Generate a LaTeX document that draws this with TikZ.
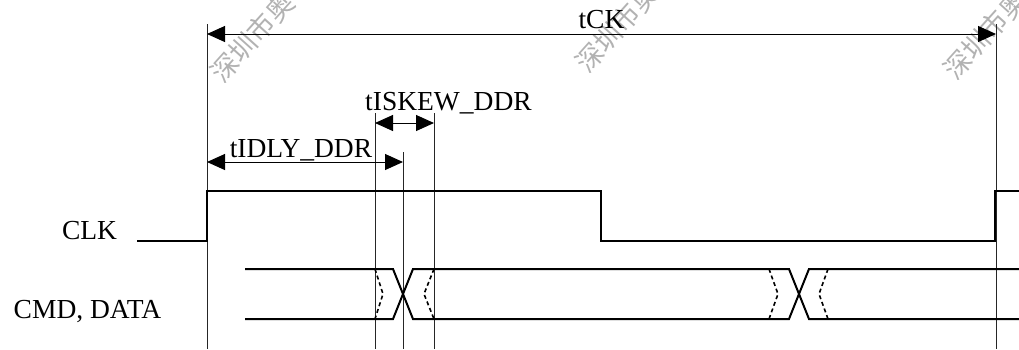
\documentclass[tikz,border=0pt]{standalone}
\usepackage{fontspec}
\setmainfont{Liberation Serif}
\newfontfamily\cjkfont{Noto Sans CJK SC}
\usepackage{tikz}
\usetikzlibrary{arrows.meta, positioning}

\begin{document}
\begin{tikzpicture}[
    x=1pt, y=-1pt,
    font=\fontsize{27.5}{32}\selectfont,
    signal/.style={
      line width=2pt,
      line join=miter
    },
    guide/.style={
      line width=1pt,
      draw=black!85
    },
    dim/.style={
      {Triangle[length=18pt, width=16pt]}-{Triangle[length=18pt, width=16pt]},
      line width=1pt
    },
    skewmark/.style={
      line width=1.6pt,
      dash pattern=on 4pt off 3pt
    },
    lbl/.style={
      anchor=base,
      inner sep=0pt
    },
    wmark/.style={
      font=\cjkfont\fontsize{27}{30}\selectfont,
      text=black!30,
      rotate=48,
      anchor=west,
      inner sep=0pt
    }
  ]

    \useasboundingbox (0,0) rectangle (1019,349);

    % Watermarks
    \begin{scope}
      \clip (0,0) rectangle (1019,349);
      \node[wmark] (wm1) at (216,78) {深圳市奥};
      \node[wmark] (wm2) at (581,68) {深圳市奥};
      \node[wmark] (wm3) at (949,75) {深圳市奥};
    \end{scope}

    % Time marks
    \coordinate (rise0) at (207,24);
    \coordinate (rise1) at (996,24);
    \coordinate (skewa) at (375,113);
    \coordinate (skewb) at (434,113);
    \coordinate (delay) at (403,152);

    % Guide lines
    \draw[guide] (rise0) -- (207,349);
    \draw[guide] (rise1) -- (996,349);
    \draw[guide] (skewa) -- (375,349);
    \draw[guide] (skewb) -- (434,349);
    \draw[guide] (delay) -- (403,349);

    % Dimensions
    \draw[dim] (rise0 |- 0,34) -- (rise1 |- 0,34);
    \draw[dim] (skewa |- 0,123) -- (skewb |- 0,123);
    \draw[dim] (rise0 |- 0,162) -- (delay |- 0,162);

    \node[lbl] (tck) at (601.5,28) {tCK};
    \node[lbl] (tiskew) at (448.5,110) {tISKEW\_DDR};
    \node[lbl] (tidly) at (301,157) {tIDLY\_DDR};

    % Clock
    \node[lbl] (clklbl) at (89.5,239) {CLK};
    \draw[signal] (137,241) -- (207,241) -- (207,191) -- (601,191)
      -- (601,241) -- (995,241) -- (995,191) -- (1019,191);

    % Command / data bus
    \node[lbl] (buslbl) at (87.5,318) {CMD, DATA};
    \draw[signal] (245,269) -- (393,269) -- (413,319) -- (789,319)
      -- (809,269) -- (1019,269);
    \draw[signal] (245,319) -- (393,319) -- (413,269) -- (789,269)
      -- (809,319) -- (1019,319);

    % Skew window
    \draw[skewmark] (375,269) -- (383,294) -- (375,319);
    \draw[skewmark] (434,269) -- (424,294) -- (434,319);
    \draw[skewmark] (769,269) -- (778,294) -- (769,319);
    \draw[skewmark] (828,269) -- (819,294) -- (828,319);

  \end{tikzpicture}
\end{document}
